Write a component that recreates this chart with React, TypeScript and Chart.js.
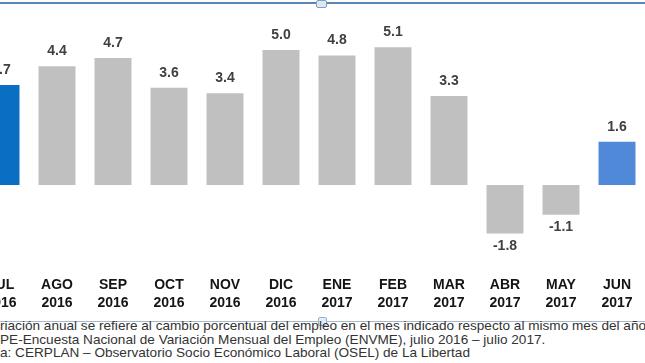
import React, { useEffect, useRef } from "react";
import { Chart, registerables } from "chart.js";

Chart.register(...registerables);

const months = ["JUL", "AGO", "SEP", "OCT", "NOV", "DIC", "ENE", "FEB", "MAR", "ABR", "MAY", "JUN"];
const years = ["2016", "2016", "2016", "2016", "2016", "2016", "2017", "2017", "2017", "2017", "2017", "2017"];
const values = [3.7, 4.4, 4.7, 3.6, 3.4, 5.0, 4.8, 5.1, 3.3, -1.8, -1.1, 1.6];
const barColors = [
  "#0a6fc2", "#c0c0c0", "#c0c0c0", "#c0c0c0", "#c0c0c0", "#c0c0c0",
  "#c0c0c0", "#c0c0c0", "#c0c0c0", "#c0c0c0", "#c0c0c0", "#5089d8",
];
const footnotes = [
  "riación anual se refiere al cambio porcentual del empleo en el mes indicado respecto al mismo mes del año",
  "PE-Encuesta Nacional de Variación Mensual del Empleo (ENVME), julio 2016 – julio 2017.",
  "a: CERPLAN – Observatorio Socio Económico Laboral (OSEL) de La Libertad",
];

const FONT = "Arial, 'Liberation Sans', Helvetica, sans-serif";

const valueLabels = {
  id: "valueLabels",
  afterDatasetsDraw(chart: any) {
    const ctx = chart.ctx;
    const meta = chart.getDatasetMeta(0);
    const data = chart.data.datasets[0].data as number[];
    ctx.save();
    ctx.font = `bold 14px ${FONT}`;
    ctx.fillStyle = "#404040";
    ctx.textAlign = "center";
    ctx.textBaseline = "alphabetic";
    meta.data.forEach((el: any, i: number) => {
      const v = data[i];
      const p = el.getProps(["x", "y"], true);
      const ty = v >= 0 ? p.y - 11 : p.y + 16;
      ctx.fillText(v.toFixed(1), p.x, ty);
    });
    ctx.restore();
  },
};

function App() {
  const ref = useRef<HTMLCanvasElement | null>(null);

  useEffect(() => {
    if (!ref.current) return;
    const chart = new Chart(ref.current, {
      type: "bar",
      data: {
        labels: months.map((m, i) => [m, years[i]]),
        datasets: [
          {
            data: values,
            backgroundColor: barColors,
            borderWidth: 0,
            barPercentage: 0.66,
            categoryPercentage: 1,
          },
        ],
      },
      options: {
        animation: false,
        responsive: false,
        devicePixelRatio: 1,
        layout: { padding: { top: 23, left: 0, right: 0, bottom: 0 } },
        plugins: {
          legend: { display: false },
          tooltip: { enabled: false },
        },
        scales: {
          y: {
            display: false,
            min: -3,
            max: 6,
          },
          x: {
            grid: { display: false, drawTicks: false },
            border: { display: false },
            ticks: {
              color: "#141414",
              padding: 10,
              maxRotation: 0,
              autoSkip: false,
              font: { family: FONT, size: 14, weight: "bold", lineHeight: 1.2857 },
            },
            afterFit(scale: any) {
              scale.height = 44;
            },
          },
        },
      },
      plugins: [valueLabels],
    });
    return () => chart.destroy();
  }, []);

  return (
    <div
      style={{
        position: "absolute",
        left: 0,
        top: 0,
        width: 645,
        height: 363,
        overflow: "hidden",
        background: "#ffffff",
      }}
    >
      <canvas
        ref={ref}
        width={672}
        height={310}
        style={{ position: "absolute", left: -27, top: 0, width: 672, height: 310 }}
      />
      <div style={{ position: "absolute", left: 0, top: 2, width: 645, height: 2, background: "#5a86b8" }} />
      <div
        style={{
          position: "absolute",
          left: 316,
          top: 0,
          width: 9,
          height: 6,
          border: "1px solid #7fa0c0",
          background: "#dce8f4",
          borderRadius: 2,
        }}
      />
      <div style={{ position: "absolute", left: 0, top: 321, width: 645, height: 1, background: "#a9b8c8" }} />
      <div
        style={{
          position: "absolute",
          left: 318,
          top: 317,
          width: 7,
          height: 7,
          border: "1px solid #8fb0d0",
          background: "#e4eef8",
          borderRadius: 2,
        }}
      />
      {footnotes.map((t, i) => (
        <div
          key={i}
          style={{
            position: "absolute",
            left: 0,
            top: 319 + i * 13.5,
            whiteSpace: "nowrap",
            fontFamily: FONT,
            fontSize: 13.6,
            lineHeight: "14px",
            color: "#333333",
          }}
        >
          {t}
        </div>
      ))}
    </div>
  );
}

export default App;
